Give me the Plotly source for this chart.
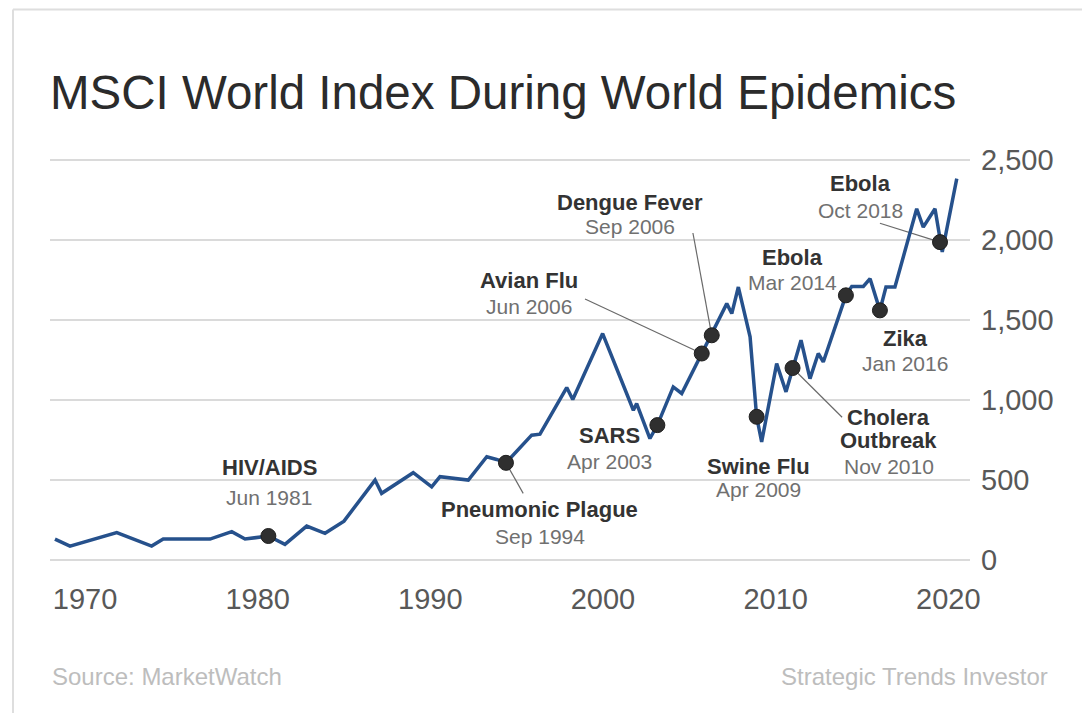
import plotly.graph_objects as go

# ---------------- data ----------------
years = [1968.26, 1969.13, 1971.84, 1973.86, 1974.53, 1977.24, 1978.50, 1979.27,
         1980.62, 1981.58, 1982.84, 1983.90, 1985.00, 1986.80, 1987.18, 1989.01,
         1990.08, 1990.56, 1992.20, 1993.27, 1993.84, 1994.38, 1995.87, 1996.35,
         1997.90, 1998.25, 1999.98, 2001.76, 2001.95, 2002.72, 2003.15, 2004.07,
         2004.56, 2005.72, 2006.30, 2007.17, 2007.46, 2007.84, 2008.52, 2008.90,
         2009.19, 2010.06, 2010.60, 2010.98, 2011.47, 2011.99, 2012.47, 2012.76,
         2014.07, 2014.41, 2015.08, 2015.47, 2016.04, 2016.39, 2016.91, 2018.17,
         2018.55, 2019.23, 2019.52, 2019.65, 2020.49]
index_values = [128, 84, 168, 84, 128, 128, 174, 128,
                147, 95, 209, 164, 240, 497, 414, 543,
                455, 518, 497, 643, 626, 605, 778, 784,
                1076, 1001, 1414, 934, 976, 757, 841, 1080,
                1039, 1289, 1403, 1601, 1539, 1705, 1393, 893,
                736, 1226, 1049, 1198, 1372, 1132, 1289, 1236,
                1653, 1709, 1709, 1757, 1559, 1705, 1705, 2195,
                2080, 2195, 1986, 1924, 2383]

event_names = ["HIV/AIDS", "Pneumonic Plague", "SARS", "Avian Flu", "Dengue Fever",
               "Swine Flu", "Cholera Outbreak", "Ebola", "Zika", "Ebola"]
event_dates = ["Jun 1981", "Sep 1994", "Apr 2003", "Jun 2006", "Sep 2006",
               "Apr 2009", "Nov 2010", "Mar 2014", "Jan 2016", "Oct 2018"]
event_years = [1980.62, 1994.38, 2003.15, 2005.72, 2006.30,
               2008.90, 2010.98, 2014.07, 2016.04, 2019.52]
event_values = [147, 605, 841, 1289, 1403, 893, 1198, 1653, 1559, 1986]

x_tick_years = [1970, 1980, 1990, 2000, 2010, 2020]
y_tick_values = [0, 500, 1000, 1500, 2000, 2500]

# ---------------- layout helpers ----------------
W, H = 1082, 713
ML, MR, MT, MB = 50, 112, 144, 138
PW, PH = W - ML - MR, H - MT - MB
X_RANGE = [1967.973, 2021.257]
Y_RANGE = [-97, 2600]


def px_x(p):
    return (p - ML) / PW


def px_y(p):
    return (H - MB - p) / PH


FONT = "Liberation Sans, Arial, sans-serif"
LINE_COLOR = "#26518c"
DOT_COLOR = "#2f2f2f"

# label placement: (x centre year, name line value(s), date line value), one per event
label_pos = [
    (1980.66, [573], 391),
    (1996.35, [310], 147),
    (2000.35, [773], 613),
    (1995.74, [1749], 1586),
    (2001.55, [2231], 2081),
    (2009.02, [585], 435),
    (2016.54, [889, 742], 585),
    (2010.98, [1890], 1733),
    (2017.52, [1380], 1227),
    (2014.89, [2353], 2187),
]
# leader lines: event index -> start point (year, value) near its label
leaders = {
    1: (1995.38, 414),
    3: (1998.96, 1630),
    4: (2005.21, 2043),
    6: (2013.85, 890),
    9: (2016.04, 2104),
}

fig = go.Figure()

# leader lines (drawn first, under the dots)
lx, ly = [], []
for i, (sx, sy) in leaders.items():
    lx += [sx, event_years[i], None]
    ly += [sy, event_values[i], None]
fig.add_trace(go.Scatter(x=lx, y=ly, mode="lines",
                         line=dict(color="#6a6a6a", width=1.2),
                         hoverinfo="skip", showlegend=False))

fig.add_trace(go.Scatter(x=years, y=index_values, mode="lines",
                         line=dict(color=LINE_COLOR, width=3.5),
                         showlegend=False, name="MSCI World"))

fig.add_trace(go.Scatter(x=event_years, y=event_values, mode="markers",
                         marker=dict(size=15, color=DOT_COLOR,
                                     line=dict(color="#1e1e1e", width=1)),
                         showlegend=False, cliponaxis=False,
                         text=[f"{n} {d}" for n, d in zip(event_names, event_dates)]))

annotations = []
for i, (name, date) in enumerate(zip(event_names, event_dates)):
    cx, name_ys, date_y = label_pos[i]
    parts = name.split(" ") if len(name_ys) > 1 else [name]
    for part, yv in zip(parts, name_ys):
        annotations.append(dict(x=cx, y=yv, xref="x", yref="y", text=f"<b>{part}</b>",
                                showarrow=False, xanchor="center", yanchor="middle",
                                font=dict(family=FONT, size=22, color="#333333")))
    annotations.append(dict(x=cx, y=date_y, xref="x", yref="y", text=date,
                            showarrow=False, xanchor="center", yanchor="middle",
                            font=dict(family=FONT, size=21, color="#707070")))

annotations.append(dict(x=px_x(48), y=px_y(93), xref="paper", yref="paper",
                        text="MSCI World Index During World Epidemics",
                        showarrow=False, xanchor="left", yanchor="middle",
                        font=dict(family=FONT, size=47.5, color="#2b2b2b")))
annotations.append(dict(x=px_x(50), y=px_y(676), xref="paper", yref="paper",
                        text="Source: MarketWatch", showarrow=False,
                        xanchor="left", yanchor="middle",
                        font=dict(family=FONT, size=24, color="#bdbdbd")))
annotations.append(dict(x=px_x(1050), y=px_y(676), xref="paper", yref="paper",
                        text="Strategic Trends Investor", showarrow=False,
                        xanchor="right", yanchor="middle",
                        font=dict(family=FONT, size=24, color="#bdbdbd")))

shapes = [
    dict(type="line", xref="paper", yref="paper", x0=px_x(13), x1=px_x(1090),
         y0=px_y(9.5), y1=px_y(9.5), line=dict(color="#dedede", width=2)),
    dict(type="line", xref="paper", yref="paper", x0=px_x(13), x1=px_x(13),
         y0=px_y(9.5), y1=px_y(720), line=dict(color="#dedede", width=2)),
]

fig.update_layout(
    width=W, height=H,
    margin=dict(l=ML, r=MR, t=MT, b=MB, pad=0),
    paper_bgcolor="white", plot_bgcolor="white",
    annotations=annotations, shapes=shapes,
    showlegend=False,
    xaxis=dict(range=X_RANGE, tickvals=x_tick_years, ticktext=[str(v) for v in x_tick_years],
               showgrid=False, zeroline=False, showline=False, ticks="",
               tickfont=dict(family=FONT, size=29, color="#585858"),
               ticklabelstandoff=4, fixedrange=True),
    yaxis=dict(range=Y_RANGE, tickvals=y_tick_values, tickformat=",", side="right",
               showgrid=True, gridcolor="#dadada", gridwidth=1.6,
               zeroline=False, showline=False, ticks="",
               tickfont=dict(family=FONT, size=29, color="#585858"),
               ticklabelstandoff=10, fixedrange=True),
)

fig.write_html("out.html")
